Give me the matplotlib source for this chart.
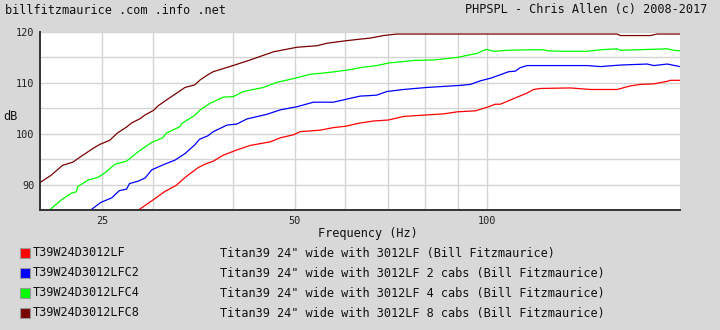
import matplotlib
matplotlib.use("Agg")
import matplotlib.pyplot as plt
from matplotlib.patches import Rectangle
from matplotlib.ticker import NullFormatter, FixedLocator

# ---- data -------------------------------------------------------------
freq_lf = [28.5, 29.9, 31.3, 32.7, 33.7, 35.3, 36.2, 37.3, 38.7, 40.6, 42.6, 45.8,
           47.5, 49.8, 51.0, 54.8, 57.5, 60.3, 62.6, 65.6, 66.4, 70.1, 74.0, 80.5,
           85.4, 89.7, 95.8, 99.9, 102.9, 104.8, 109.9, 115.4, 118.1, 121.0, 134.8,
           144.9, 159.5, 167.3, 173.5, 182.0, 191.0, 193.2, 200.0]
spl_lf = [85.0, 86.8, 88.6, 89.9, 91.4, 93.3, 94.0, 94.6, 95.8, 96.8, 97.7, 98.4,
          99.2, 99.8, 100.4, 100.7, 101.2, 101.5, 102.0, 102.4, 102.5, 102.7, 103.4, 103.7,
          103.9, 104.3, 104.5, 105.2, 105.8, 105.8, 106.9, 108.0, 108.7, 108.9, 109.0,
          108.7, 108.7, 109.4, 109.7, 109.8, 110.3, 110.5, 110.5]

freq_lfc2 = [24.0, 24.9, 25.9, 26.6, 27.3, 27.6, 28.5, 29.2, 29.9, 31.3, 32.5, 33.7,
             34.9, 35.5, 36.6, 37.3, 39.2, 40.6, 42.1, 45.2, 47.5, 50.4, 53.5, 57.5,
             60.3, 63.3, 65.6, 67.2, 69.7, 74.0, 80.5, 90.7, 94.1, 97.5, 101.1, 104.8,
             108.0, 110.6, 112.6, 115.4, 143.2, 150.2, 161.4, 177.7, 182.0, 191.0, 200.0]
spl_lfc2 = [85.0, 86.5, 87.4, 88.8, 89.1, 90.2, 90.7, 91.3, 92.9, 94.0, 94.8, 96.1,
            97.8, 98.9, 99.6, 100.4, 101.7, 101.9, 102.9, 103.8, 104.7, 105.3, 106.2, 106.2,
            106.8, 107.4, 107.5, 107.6, 108.3, 108.7, 109.1, 109.5, 109.7, 110.4, 110.9, 111.6,
            112.2, 112.3, 113.0, 113.4, 113.4, 113.2, 113.5, 113.7, 113.4, 113.7, 113.2]

freq_lfc4 = [20.7, 21.6, 22.4, 22.8, 22.9, 23.8, 24.6, 25.2, 26.2, 27.3, 28.5, 29.9,
             31.1, 31.5, 33.1, 33.3, 34.9, 35.6, 36.9, 38.7, 40.1, 41.6, 44.7, 46.9,
             50.4, 52.9, 56.2, 60.3, 63.3, 67.2, 70.1, 74.0, 76.7, 82.4, 89.7, 96.4,
             99.6, 102.3, 107.3, 116.7, 122.5, 124.0, 131.6, 143.2, 150.2, 159.5, 161.4,
             171.4, 191.0, 195.6, 200.0]
spl_lfc4 = [85.0, 87.0, 88.3, 88.6, 89.6, 90.9, 91.4, 92.2, 94.0, 94.6, 96.5, 98.3,
            99.2, 100.1, 101.4, 102.0, 103.6, 104.7, 106.0, 107.2, 107.3, 108.3, 109.1, 110.1,
            111.0, 111.7, 112.0, 112.5, 113.0, 113.4, 113.9, 114.2, 114.4, 114.5, 115.0, 115.8,
            116.6, 116.2, 116.4, 116.5, 116.5, 116.3, 116.2, 116.2, 116.5, 116.7, 116.4,
            116.5, 116.7, 116.4, 116.3]

freq_lfc8 = [20.0, 20.8, 21.7, 22.5, 23.1, 24.2, 24.8, 25.7, 26.4, 27.3, 27.8, 28.7,
             29.2, 30.1, 30.6, 31.5, 32.1, 33.7, 34.9, 35.6, 36.6, 37.3, 39.6, 42.6,
             46.3, 50.4, 54.2, 56.2, 60.3, 63.3, 65.6, 68.8, 72.2, 159.5, 161.4, 179.8,
             184.2, 200.0]
spl_lfc8 = [90.4, 91.8, 93.8, 94.4, 95.4, 97.1, 97.9, 98.7, 100.1, 101.3, 102.1, 103.0,
            103.7, 104.6, 105.5, 106.6, 107.3, 109.1, 109.6, 110.6, 111.6, 112.2, 113.2, 114.5,
            116.1, 117.0, 117.3, 117.8, 118.3, 118.6, 118.8, 119.3, 119.6, 119.6, 119.3, 119.3,
            119.6, 119.6]

series_names = ["T39W24D3012LF", "T39W24D3012LFC2", "T39W24D3012LFC4", "T39W24D3012LFC8"]
series_desc = [
    'Titan39 24" wide with 3012LF (Bill Fitzmaurice)',
    'Titan39 24" wide with 3012LF 2 cabs (Bill Fitzmaurice)',
    'Titan39 24" wide with 3012LF 4 cabs (Bill Fitzmaurice)',
    'Titan39 24" wide with 3012LF 8 cabs (Bill Fitzmaurice)',
]
series_colors = ["#ff0000", "#0000ff", "#00ff00", "#7a0000"]

x_major = [25, 50, 100]
x_grid = [25, 30, 40, 50, 60, 70, 80, 90, 100]
y_major = [90, 100, 110, 120]
y_grid = [85, 90, 95, 100, 105, 110, 115, 120]

# ---- figure -----------------------------------------------------------
W, H = 720, 330
BG = "#d8d8d8"
MONO = "DejaVu Sans Mono"
plt.rcParams["font.family"] = MONO

fig = plt.figure(figsize=(W / 100, H / 100), dpi=100, facecolor=BG)


def fx(px):
    return px / W


def fy(py):
    return 1 - py / H


ax = fig.add_axes([fx(40), fy(210), fx(680) - fx(40), fy(32) - fy(210)])
ax.set_facecolor("white")

ax.set_xscale("log")
ax.set_xlim(20, 200)
ax.set_ylim(85, 120)

ax.xaxis.set_major_locator(FixedLocator(x_grid))
ax.xaxis.set_minor_locator(FixedLocator([]))
ax.set_xticklabels([str(v) if v in x_major else "" for v in x_grid])
ax.xaxis.set_minor_formatter(NullFormatter())
ax.yaxis.set_major_locator(FixedLocator(y_grid))
ax.set_yticklabels([str(v) if v in y_major else "" for v in y_grid])

ax.grid(True, color="#d4d4d4", linewidth=1.0)
ax.set_axisbelow(True)
ax.tick_params(length=0, labelsize=7.4, colors="#222222", pad=4)

for side in ("top", "right"):
    ax.spines[side].set_visible(False)
for side in ("left", "bottom"):
    ax.spines[side].set_color("#333333")
    ax.spines[side].set_linewidth(1.4)

curves = [(freq_lf, spl_lf), (freq_lfc2, spl_lfc2), (freq_lfc4, spl_lfc4), (freq_lfc8, spl_lfc8)]
for (fq, spl), col in zip(curves, series_colors):
    ax.plot(fq, spl, color=col, linewidth=0.9, clip_on=True)

# ---- text -------------------------------------------------------------
TXT = 8.6
fig.text(fx(5), fy(10), "billfitzmaurice .com .info .net", fontsize=TXT,
         va="center", ha="left", color="#111111")
fig.text(fx(707), fy(10), "PHPSPL - Chris Allen (c) 2008-2017", fontsize=TXT,
         va="center", ha="right", color="#111111")
fig.text(fx(3), fy(117), "dB", fontsize=TXT, va="center", ha="left", color="#111111")
fig.text(fx(368), fy(234), "Frequency (Hz)", fontsize=TXT, va="center", ha="center",
         color="#111111")

# legend block
for i, (name, desc, col) in enumerate(zip(series_names, series_desc, series_colors)):
    yc = 253 + 20 * i
    fig.patches.append(Rectangle((fx(20), fy(yc + 5)), fx(10), fy(yc - 5) - fy(yc + 5),
                                 transform=fig.transFigure, facecolor=col,
                                 edgecolor="#9a9a9a", linewidth=0.8))
    fig.text(fx(33), fy(yc), name, fontsize=TXT, va="center", ha="left", color="#111111")
    fig.text(fx(220), fy(yc), desc, fontsize=TXT, va="center", ha="left", color="#111111")

fig.savefig("out.png", dpi=100, facecolor=BG)
